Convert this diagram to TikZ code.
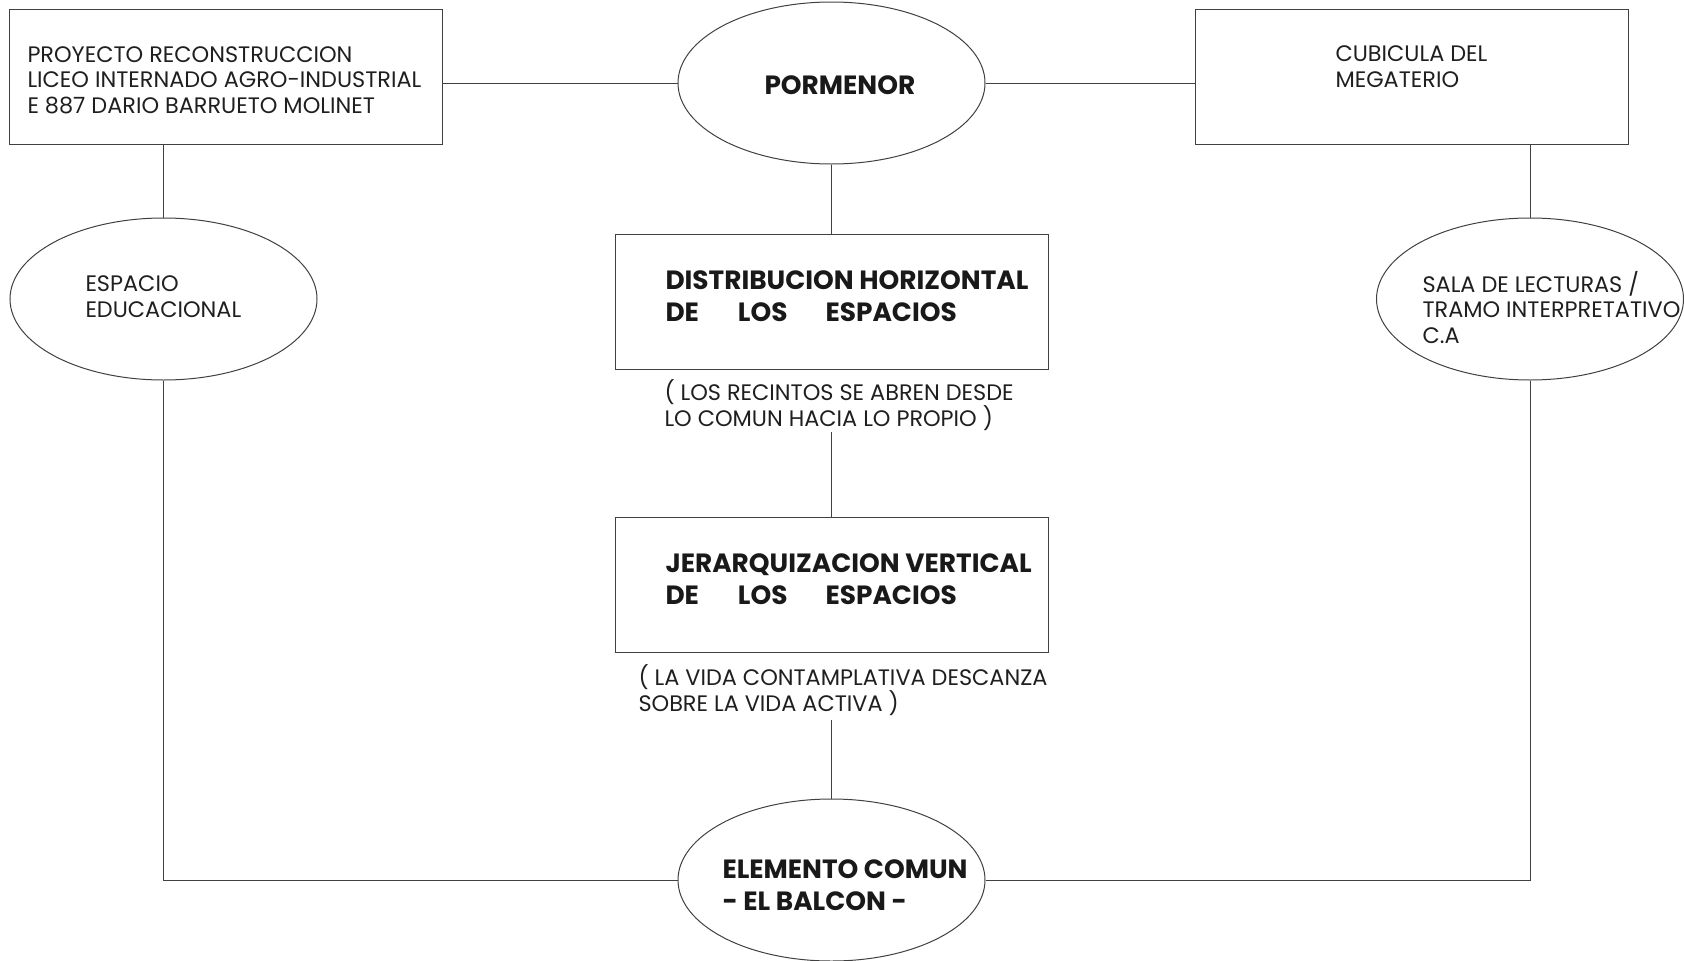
\documentclass[tikz,border=0pt]{standalone}
\usepackage{fontspec}
\setmainfont{Poppins}
\usetikzlibrary{shapes.geometric,positioning}

\begin{document}
\begin{tikzpicture}[x=1pt,y=-1pt,line width=1pt,
  caja/.style={draw=black!75,rectangle,minimum width=433pt,minimum height=135pt,inner sep=0pt},
  ovalo/.style={draw=black!75,ellipse,minimum width=307pt,minimum height=162pt,inner sep=0pt},
  txt/.style={anchor=base west,inner sep=0pt,align=left,text=black!88,font=\fontsize{22.4}{25.5}\selectfont},
  negrita/.style={anchor=base west,inner sep=0pt,align=left,text=black!90,font=\fontsize{26.4}{31.5}\selectfont\bfseries},
  linea/.style={draw=black!75}]
\useasboundingbox (0,0) rectangle (1684,961);
% cajas y ovalos
\node[caja] (proyecto) at (225.5,77) {};
\node[caja] (cubicula) at (1412,77) {};
\node[caja] (distribucion) at (831.5,301.5) {};
\node[caja] (jerarquia) at (831.5,585) {};
\node[ovalo] (pormenor) at (831.5,83) {};
\node[ovalo] (espacio) at (163.5,299) {};
\node[ovalo] (sala) at (1530,299) {};
\node[ovalo] (elemento) at (831.5,880) {};
% textos (anclados en la linea base de la ultima fila)
\node[txt] (tproyecto) at (27,113) {PROYECTO RECONSTRUCCION\\LICEO INTERNADO AGRO-INDUSTRIAL\\E 887 DARIO BARRUETO MOLINET};
\node[txt] (tcubicula) at (1335,87) {CUBICULA DEL\\MEGATERIO};
\node[txt] (tespacio) at (85,317) {ESPACIO\\EDUCACIONAL};
\node[txt] (tsala) at (1422,343) {SALA DE LECTURAS /\\TRAMO INTERPRETATIVO\\C.A};
\node[negrita] (tpormenor) at (764,94) {PORMENOR};
\node[negrita] (tdistribucion) at (665,321) {DISTRIBUCION HORIZONTAL\\DE\hspace{39pt}LOS\hspace{38pt}ESPACIOS};
\node[txt] (recintos) at (664,426) {( LOS RECINTOS SE ABREN DESDE\\LO COMUN HACIA LO PROPIO )};
\node[negrita] (tjerarquia) at (665,604) {JERARQUIZACION VERTICAL\\DE\hspace{39pt}LOS\hspace{38pt}ESPACIOS};
\node[txt] (vida) at (638,711) {( LA VIDA CONTAMPLATIVA DESCANZA\\SOBRE LA VIDA ACTIVA )};
\node[negrita] (telemento) at (722,910) {ELEMENTO COMUN\\- EL BALCON -};
\coordinate (c1) at (831.5,432);
\coordinate (c2) at (831.5,720);
% conectores
\draw[linea] (proyecto.east |- pormenor.west) -- (pormenor.west);
\draw[linea] (pormenor.east) -- (cubicula.west |- pormenor.east);
\draw[linea] (proyecto.south -| espacio.north) -- (espacio.north);
\draw[linea] (cubicula.south -| sala.north) -- (sala.north);
\draw[linea] (pormenor.south) -- (distribucion.north);
\draw[linea] (c1) -- (jerarquia.north);
\draw[linea] (c2) -- (elemento.north);
\draw[linea] (espacio.south) |- (elemento.west);
\draw[linea] (sala.south) |- (elemento.east);
\end{tikzpicture}
\end{document}
